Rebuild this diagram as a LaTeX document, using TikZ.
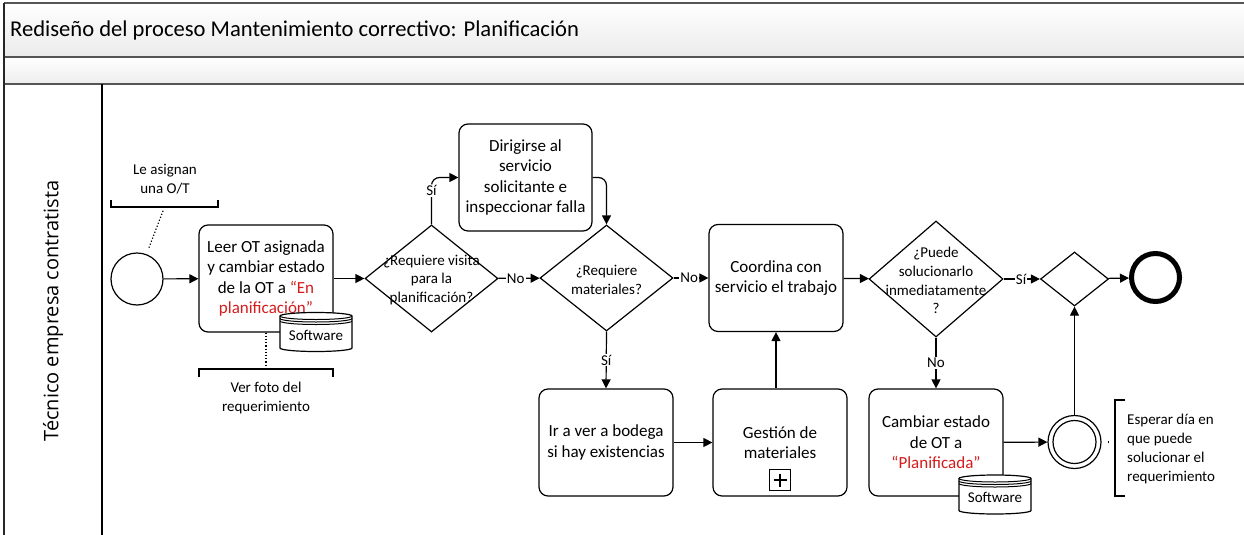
\documentclass[tikz,border=0pt]{standalone}
\usepackage{fontspec}
\setmainfont{Carlito}
\newfontfamily\lanefont{Open Sans}
\usetikzlibrary{shapes.geometric,arrows.meta,calc}

\definecolor{redtxt}{RGB}{212,28,28}
\definecolor{framec}{RGB}{85,85,85}

\newcommand{\taskfont}{\fontsize{17}{20.5}\selectfont}
\newcommand{\gwfont}{\fontsize{15}{18.8}\selectfont}
\newcommand{\notefont}{\fontsize{15}{19.2}\selectfont}
\newcommand{\lblfont}{\fontsize{15}{18}\selectfont}
\newcommand{\storefont}{\fontsize{15}{18}\selectfont}

% BPMN data store: name, centre x, centre y
\newcommand{\swstore}[3]{%
  \draw[line width=1.2pt, fill=white]
    (#2-36,#3-16) -- (#2-36,#3+16)
    arc[start angle=180, end angle=360, x radius=36pt, y radius=3.5pt]
    -- (#2+36,#3-16)
    arc[start angle=0, end angle=180, x radius=36pt, y radius=3.5pt] -- cycle;
  \draw[line width=1pt]
    (#2-36,#3-16) arc[start angle=180, end angle=360, x radius=36pt, y radius=3.5pt]
    (#2-36,#3-13.5) arc[start angle=180, end angle=360, x radius=36pt, y radius=3.5pt]
    (#2-36,#3-11) arc[start angle=180, end angle=360, x radius=36pt, y radius=3.5pt];
  \node[font=\storefont, inner sep=0pt] (#1) at (#2,#3+3) {Software};
}

\tikzset{
  task/.style={draw, line width=1.2pt, rounded corners=9pt, fill=white,
    minimum width=134pt, minimum height=107pt, align=center, font=\taskfont,
    inner sep=1pt},
  gw/.style={draw, diamond, line width=1.2pt, inner sep=0pt},
  gwtext/.style={align=center, font=\gwfont, inner sep=0pt},
  flow/.style={line width=1.2pt, -{Triangle[length=9pt,width=9pt]}},
  lbl/.style={fill=white, inner sep=1pt, font=\lblfont},
  assoc/.style={line width=1.2pt, dotted},
  bracket/.style={line width=1.2pt},
  note/.style={align=center, font=\notefont, inner sep=0pt},
  event/.style={draw, circle, line width=1.2pt, inner sep=0pt}
}

\begin{document}
\begin{tikzpicture}[x=1pt, y=-1pt]
\useasboundingbox (0,0) rectangle (1244,535);
\clip (0,0) rectangle (1244,535);

% pool header bands
\shade[top color=white, bottom color=black!8] (4,3) rectangle (1250,57);
\shade[top color=white, bottom color=black!7] (4,57) rectangle (1250,84);
\draw[framec, line width=1.8pt] (1250,3) -- (4,3);
\draw[framec, line width=1.8pt] (4,57) -- (1250,57) (4,84) -- (1250,84);
\draw[black!85, line width=1.5pt] (4,3) -- (4,540);
\draw[line width=1.3pt] (102,84) -- (102,540);

\node[anchor=west, font=\fontsize{22.6}{26}\selectfont, inner sep=0pt] (title) at (10,30)
  {Rediseño del proceso Mantenimiento correctivo: Planificación};
\node[rotate=90, font=\lanefont\fontsize{20}{23}\selectfont, inner sep=0pt] (lane) at (53,311)
  {Técnico empresa contratista};

% events
\node[event, minimum size=52pt] (start) at (137,279) {};
\node[event, minimum size=48pt, line width=5pt] (end) at (1155.5,277.5) {};
\node[event, minimum size=53pt] (ie) at (1074.5,442) {};
\draw[line width=1.2pt] (ie) circle[radius=21.5pt];

% tasks
\node[task] (t1) at (266,278.5)
  {Leer OT asignada\\y cambiar estado\\de la OT a \textcolor{redtxt}{“En}\\\textcolor{redtxt}{planificación”}};
\node[task, minimum width=133pt] (t2) at (525.5,177.5)
  {Dirigirse al\\servicio\\solicitante e\\inspeccionar falla};
\node[task] (t3) at (776,278)
  {Coordina con\\servicio el trabajo};
\node[task] (t4) at (606,442.5)
  {Ir a ver a bodega\\si hay existencias};
\node[task] (t5) at (780,442.5)
  {Gestión de\\materiales};
\node[task] (t6) at (936,442.5)
  {Cambiar estado\\de OT a\\\textcolor{redtxt}{“Planificada”}};

% sub-process marker
\node[draw, line width=1.2pt, minimum size=21pt, inner sep=0pt] (sub) at (780,480) {};
\draw[line width=2.4pt] ($(sub)+(-6.5,0)$) -- ($(sub)+(6.5,0)$)
                        ($(sub)+(0,-6.5)$) -- ($(sub)+(0,6.5)$);

% gateways
\node[gw, minimum width=133pt, minimum height=107pt] (g1) at (431.5,278.5) {};
\node[gwtext] (g1t) at (431.5,280) {¿Requiere visita\\para la\\planificación?};
\node[gw, minimum width=133pt, minimum height=106pt] (g2) at (606.5,278) {};
\node[gwtext] (g2t) at (606.5,280) {¿Requiere\\materiales?};
\node[gw, minimum width=134pt, minimum height=116pt] (g3) at (936,279) {};
\node[gwtext] (g3t) at (936,280.5) {¿Puede\\solucionarlo\\inmediatamente\\?};
\node[gw, minimum width=68pt, minimum height=54pt] (g4) at (1074.5,279) {};

% data stores
\swstore{ds1}{316}{332}
\swstore{ds2}{995}{494.5}

% sequence flows
\draw[flow] (start) -- (t1);
\draw[flow] (t1) -- (g1);
\draw[flow, rounded corners=8pt] (g1.north) |- node[lbl, pos=0.36] {Sí} (t2.west);
\draw[flow, rounded corners=8pt] (t2.east) -| (g2.north);
\draw[flow] (g1) -- node[lbl, pos=0.42] {No} (g2);
\draw[flow] (g2) -- node[lbl, pos=0.45] {No} (t3);
\draw[flow] (g2.south) -- node[lbl, pos=0.5] {Sí} (t4.north);
\draw[flow] (t4) -- (t5);
\draw[flow] (t5.north -| t3.south) -- (t3.south);
\draw[flow] (t3) -- (g3);
\draw[flow] (g3) -- node[lbl, pos=0.48] {Sí} (g4);
\draw[flow] (g3.south) -- node[lbl, pos=0.5] {No} (t6.north);
\draw[flow] (g4) -- (end);
\draw[flow] (t6) -- (ie);
\draw[flow] (ie.north) -- (g4.south);

% text annotations
\node[note] (a1) at (165,179) {Le asignan\\una O/T};
\coordinate (a1b) at (164.5,207);
\draw[bracket] (111,200) -- (111,207) -- (218,207) -- (218,200);
\draw[assoc, shorten <=4pt, shorten >=7pt] (a1b) -- (start);

\node[note] (a2) at (266,398) {Ver foto del\\requerimiento};
\coordinate (a2b) at (266,369);
\draw[bracket] (199,377) -- (199,369) -- (333,369) -- (333,377);
\draw[assoc] (t1.south) -- (a2b);

\node[note, anchor=west, align=left] (a3) at (1127,449)
  {Esperar día en\\que puede\\solucionar el\\requerimiento};
\coordinate (a3b) at (1115,442);
\draw[bracket] (1125,400) -- (1115,400) -- (1115,496) -- (1125,496);
\draw[assoc, shorten <=6pt, shorten >=6pt] (ie.east) -- (a3b);
\end{tikzpicture}
\end{document}
